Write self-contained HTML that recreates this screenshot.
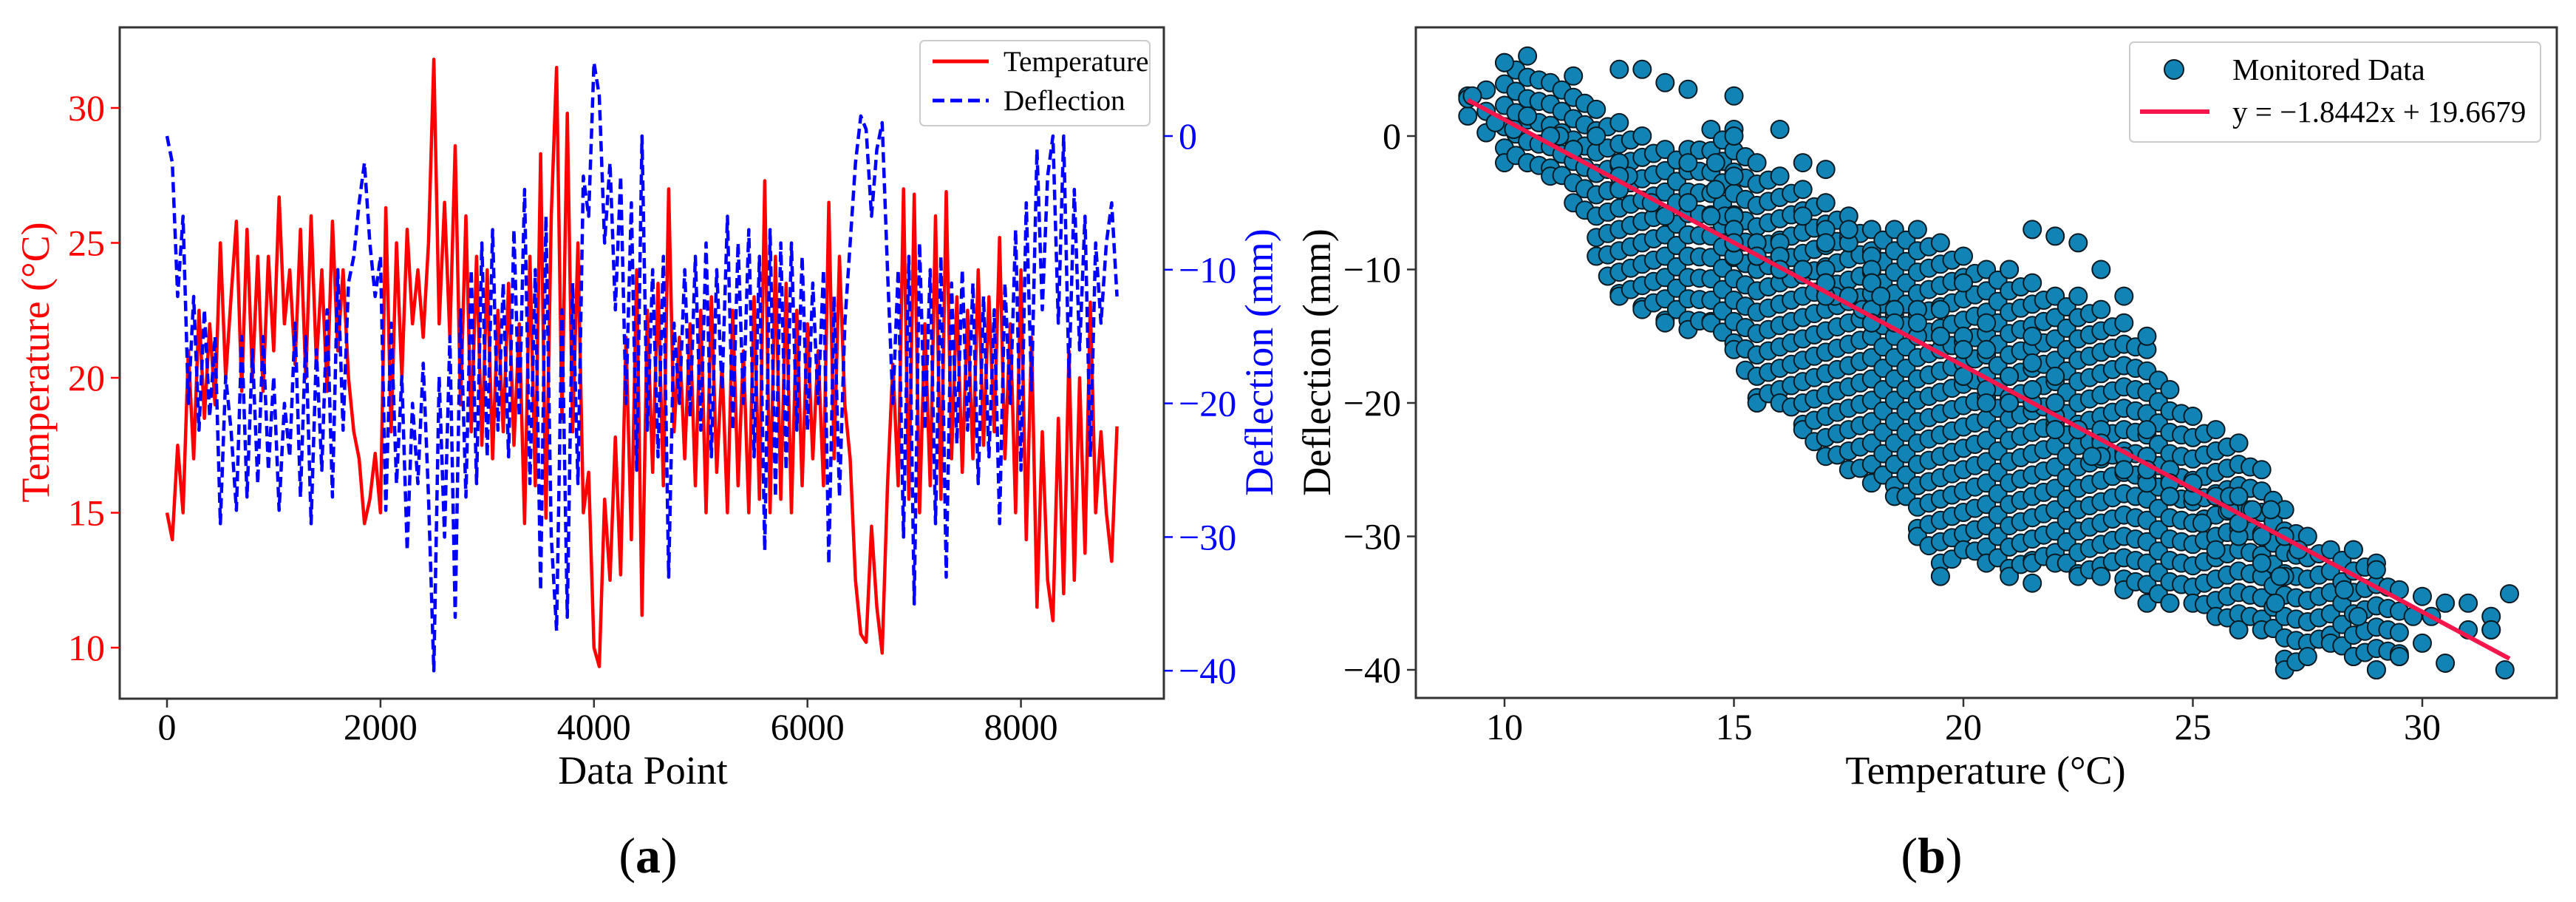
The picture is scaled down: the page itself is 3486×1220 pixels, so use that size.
<!DOCTYPE html>
<html><head><meta charset="utf-8"><style>
html,body{margin:0;padding:0;background:#fff;}
svg{display:block;}
svg text{font-family:"Liberation Serif","Times New Roman","DejaVu Serif",serif;}
</style></head><body>
<svg id="fig" width="3486" height="1220" viewBox="0 0 3486 1220" xmlns="http://www.w3.org/2000/svg" font-family="'Liberation Serif', 'Times New Roman', 'DejaVu Serif', serif">
<rect width="3486" height="1220" fill="#fff"/>
<g id="pa"></g>
<g id="pb"></g>
</svg>
<script>
// ---------- Panel (a) data ----------
const dataStep = 50;
const temperature = [15.0,14.0,17.5,15.0,21.0,17.0,22.5,18.5,22.0,19.0,25.0,20.0,23.0,25.8,19.5,25.5,20.0,24.5,19.5,24.5,21.0,26.7,22.0,24.0,20.5,25.5,20.0,26.0,20.5,24.0,19.5,25.8,21.0,24.0,20.0,18.0,17.0,14.6,15.5,17.2,15.0,26.3,18.0,25.0,20.0,25.5,22.0,24.0,21.5,25.0,31.8,22.0,26.5,21.5,28.6,19.0,26.0,18.0,24.5,17.5,24.0,17.0,22.5,18.0,23.5,17.5,22.0,14.6,24.5,16.0,28.3,14.8,26.0,31.5,18.5,29.8,18.0,25.0,15.0,16.5,10.0,9.3,15.5,12.5,17.8,12.7,21.5,14.0,24.0,11.2,22.5,16.5,23.5,16.0,27.0,18.0,21.5,17.0,22.0,16.0,22.5,15.0,23.0,16.5,20.5,15.0,22.5,16.0,21.0,15.0,23.0,15.5,27.3,15.0,24.5,15.5,23.5,15.0,22.5,16.0,22.0,17.0,21.0,16.0,26.5,17.0,24.5,19.0,17.0,12.5,10.5,10.2,14.5,11.5,9.8,16.0,20.5,16.0,27.0,15.5,26.8,15.0,22.0,16.0,26.0,15.5,26.9,17.0,23.0,16.5,22.5,17.0,24.0,17.5,23.0,18.0,25.2,17.0,22.0,15.0,24.0,14.0,21.5,11.5,18.0,12.5,11.0,18.5,12.0,21.0,12.5,20.0,13.5,22.8,15.0,18.0,15.0,13.2,18.2];
const deflection = [0,-2,-12,-6,-20,-12,-22,-13,-21,-15,-29,-18,-22,-28,-15,-27,-16,-26,-15,-25,-18,-28,-20,-24,-14,-27,-15,-29,-16,-25,-13,-27,-10,-22,-11,-9,-5,-2,-8,-12,-9,-28,-14,-26,-18,-31,-20,-26,-17,-27,-40,-18,-30,-15,-36,-13,-27,-10,-26,-8,-24,-7,-22,-11,-24,-7,-21,-4,-26,-10,-34,-6,-30,-37,-13,-36,-11,-26,-3,-6,5.5,3,-8,-2,-13,-3,-20,-5,-25,0,-22,-10,-24,-9,-33,-14,-20,-10,-21,-9,-22,-8,-24,-10,-19,-6,-22,-8,-20,-7,-24,-9,-31,-7,-27,-8,-25,-8,-22,-9,-22,-11,-20,-10,-32,-12,-27,-14,-8,-2,1.5,0.5,-6,-1,1,-10,-20,-10,-30,-9,-35,-8,-22,-10,-29,-9,-33,-11,-23,-10,-22,-11,-26,-12,-24,-13,-29,-11,-20,-7,-25,-5,-19,-1,-13,-3,0,-14,0,-18,-4,-16,-6,-24,-8,-14,-8,-5,-12];
const xTicksA = [0,2000,4000,6000,8000];
const yTicksTemp = [10,15,20,25,30];
const yTicksDefl = [-40,-30,-20,-10,0];
// ---------- Panel (b) data ----------
// blob envelope read per temperature column
const colTemps = [9.2,10,10.5,11,11.5,12,12.5,13,13.5,14,14.5,15,15.5,16,16.5,17,17.5,18,18.5,19,19.5,20,20.5,21,21.5,22,22.5,23,23.5,24,24.5,25,25.5,26,26.5,27,27.5,28,28.5,29,29.5];
const colMax = [3,5.5,6,4,4.5,2,1,0,-1,-1,0.5,0.5,-2,-3,-4,-5,-6,-7,-7,-7,-8,-9,-10,-10,-11,-12,-12,-13,-14,-16,-19,-21,-22,-23,-25,-28,-30,-31,-31,-32,-34];
const colMin = [1.5,-2,-2,-3,-5,-9,-12,-13,-14,-14.5,-14,-16,-20,-20,-22,-24,-25,-26,-27,-30,-33,-31,-32,-33,-32,-32,-33,-33,-34,-35,-35,-35,-36,-37,-37,-40,-39,-38,-39,-40,-39];
const outlierT = [12.5,13,13.5,14,15,16,16.5,17,21.5,22,22.5,23,23.5,24,19.5,21.5,30,30.5,31,31.5,31.9,30,30.5,31,31.5,29.5,28.5,29,9.2,30.2];
const outlierD = [5,5,4,3.5,3,0.5,-2,-2.5,-7,-7.5,-8,-10,-12,-15,-33,-33.5,-34.5,-35,-35,-36,-34.3,-38,-39.5,-37,-37,-39,-31,-32.5,2.8,-36];
const fitSlope = -1.8442, fitIntercept = 19.6679;
const fitRange = [9.2,31.9];
const xTicksB = [10,15,20,25,30];
const yTicksB = [-40,-30,-20,-10,0];

const NS = "http://www.w3.org/2000/svg";
const FONT = "'Liberation Serif', 'Times New Roman', 'DejaVu Serif', serif";
function mk(parent, tag, attrs, text){
  const e = document.createElementNS(NS, tag);
  for (const k in attrs) e.setAttribute(k, attrs[k]);
  if (tag === 'text') e.setAttribute('font-family', FONT);
  if (text !== undefined) e.textContent = text;
  parent.appendChild(e);
  return e;
}
const xA = v => 226 + v * 0.14445;
const yT = t => 146 + (30 - t) * 36.5;
const yD = d => 184 - d * 18.08;
const xB = t => 2036 + (t - 10) * 62.1;
const yB = d => 184 - d * 18.05;

// ===== Panel A =====
const pa = document.getElementById('pa');
const boxA = {l:162, r:1575, t:37, b:945};
let p = temperature.map((t,i)=>`${xA(i*dataStep).toFixed(1)},${yT(t).toFixed(1)}`).join(' ');
let el = mk(pa,'polyline',{points:p,fill:'none',stroke:'#ff0000','stroke-width':4.5,'stroke-linejoin':'round'});


p = deflection.map((d,i)=>`${xA(i*dataStep).toFixed(1)},${yD(d).toFixed(1)}`).join(' ');
el = mk(pa,'polyline',{points:p,fill:'none',stroke:'#0000ff','stroke-width':4.5,'stroke-dasharray':'14 7','stroke-linejoin':'round'});


el = mk(pa,'rect',{x:boxA.l,y:boxA.t,width:boxA.r-boxA.l,height:boxA.b-boxA.t,fill:'none',stroke:'#333','stroke-width':3});


xTicksA.forEach(v=>{
  const x = xA(v);
  mk(pa,'line',{x1:x,x2:x,y1:boxA.b,y2:boxA.b+12,stroke:'#333','stroke-width':2.5});
  const t = mk(pa,'text',{x:x,y:1000,'font-size':50,'text-anchor':'middle',fill:'#000'},String(v));
  
  
});
yTicksTemp.forEach(v=>{
  const y = yT(v);
  mk(pa,'line',{x1:boxA.l-12,x2:boxA.l,y1:y,y2:y,stroke:'#ff0000','stroke-width':2.5});
  const t = mk(pa,'text',{x:boxA.l-20,y:y+17,'font-size':50,'text-anchor':'end',fill:'#ff0000'},String(v));
  
  
});
yTicksDefl.forEach(v=>{
  const y = yD(v);
  mk(pa,'line',{x1:boxA.r,x2:boxA.r+12,y1:y,y2:y,stroke:'#0000ff','stroke-width':2.5});
  const t = mk(pa,'text',{x:boxA.r+20,y:y+17,'font-size':50,'text-anchor':'start',fill:'#0000ff'},(v<0?'\u2212':'')+Math.abs(v));
  
  
});
el = mk(pa,'text',{x:870,y:1060,'font-size':54,'text-anchor':'middle',fill:'#000'},'Data Point');


el = mk(pa,'text',{x:0,y:0,'font-size':54,'text-anchor':'middle',fill:'#ff0000',transform:'translate(66,490) rotate(-90)'},'Temperature (°C)');


el = mk(pa,'text',{x:0,y:0,'font-size':54,'text-anchor':'middle',fill:'#0000ff',transform:'translate(1722,490) rotate(-90)'},'Deflection (mm)');


const lgA = mk(pa,'g',{});


mk(lgA,'rect',{x:1245,y:55,width:311,height:115,rx:6,fill:'#fff',stroke:'#ccc','stroke-width':2});
mk(lgA,'line',{x1:1262,x2:1338,y1:83,y2:83,stroke:'#ff0000','stroke-width':5});
el = mk(lgA,'text',{x:1358,y:96,'font-size':39,fill:'#000'},'Temperature');


mk(lgA,'line',{x1:1262,x2:1338,y1:136,y2:136,stroke:'#0000ff','stroke-width':5,'stroke-dasharray':'16 8'});
el = mk(lgA,'text',{x:1358,y:149,'font-size':39,fill:'#000'},'Deflection');


el = mk(pa,'text',{x:877,y:1180,'font-size':68,'text-anchor':'middle',fill:'#000'});
el.innerHTML = '(<tspan font-weight="bold">a</tspan>)';



// ===== Panel B =====
const pb = document.getElementById('pb');
const boxB = {l:1916, r:3460, t:37, b:944};
const pts = [];
// fill each column envelope (and half-step columns between neighbours) with markers
colTemps.forEach((t,i)=>{
  const hi = colMax[i], lo = colMin[i];
  for (let d = hi; d >= lo - 0.01; d -= 1.6) pts.push([t, d]);
  pts.push([t, lo]);
  if (i < colTemps.length - 1) {
    const t2 = (t + colTemps[i+1]) / 2;
    const hi2 = (hi + colMax[i+1]) / 2, lo2 = (lo + colMin[i+1]) / 2;
    for (let d = hi2 - 0.8; d >= lo2; d -= 1.6) pts.push([t2, d]);
  }
});
outlierT.forEach((t,i)=>pts.push([t, outlierD[i]]));
temperature.forEach((t,i)=>pts.push([t, deflection[i]]));
const sg = mk(pb,'g',{});


pts.forEach(([t,d])=>{
  const c = mk(sg,'circle',{cx:xB(t).toFixed(1),cy:yB(d).toFixed(1),r:12,fill:'#1184b5',stroke:'#0a1a22','stroke-width':2});
  
  
});
el = mk(pb,'line',{x1:xB(fitRange[0]),y1:yB(fitSlope*fitRange[0]+fitIntercept),x2:xB(fitRange[1]),y2:yB(fitSlope*fitRange[1]+fitIntercept),stroke:'#f5174b','stroke-width':6});


el = mk(pb,'rect',{x:boxB.l,y:boxB.t,width:boxB.r-boxB.l,height:boxB.b-boxB.t,fill:'none',stroke:'#333','stroke-width':3});


xTicksB.forEach(v=>{
  const x = xB(v);
  mk(pb,'line',{x1:x,x2:x,y1:boxB.b,y2:boxB.b+12,stroke:'#333','stroke-width':2.5});
  const t = mk(pb,'text',{x:x,y:1000,'font-size':50,'text-anchor':'middle',fill:'#000'},String(v));
  
  
});
yTicksB.forEach(v=>{
  const y = yB(v);
  mk(pb,'line',{x1:boxB.l-12,x2:boxB.l,y1:y,y2:y,stroke:'#333','stroke-width':2.5});
  const t = mk(pb,'text',{x:boxB.l-20,y:y+17,'font-size':50,'text-anchor':'end',fill:'#000'},(v<0?'\u2212':'')+Math.abs(v));
  
  
});
el = mk(pb,'text',{x:2687,y:1060,'font-size':54,'text-anchor':'middle',fill:'#000'},'Temperature (°C)');


el = mk(pb,'text',{x:0,y:0,'font-size':54,'text-anchor':'middle',fill:'#000',transform:'translate(1800,490) rotate(-90)'},'Deflection (mm)');


const lgB = mk(pb,'g',{});


mk(lgB,'rect',{x:2882,y:57,width:556,height:135,rx:6,fill:'#fff',stroke:'#ccc','stroke-width':2});
mk(lgB,'circle',{cx:2942,cy:94,r:13,fill:'#1184b5',stroke:'#0a1a22','stroke-width':2});
el = mk(lgB,'text',{x:3021,y:108,'font-size':41,fill:'#000'},'Monitored Data');


mk(lgB,'line',{x1:2896,x2:2990,y1:151,y2:151,stroke:'#f5174b','stroke-width':6});
el = mk(lgB,'text',{x:3021,y:165,'font-size':41,fill:'#000'},'y = \u22121.8442x + 19.6679');


el = mk(pb,'text',{x:2614,y:1180,'font-size':68,'text-anchor':'middle',fill:'#000'});
el.innerHTML = '(<tspan font-weight="bold">b</tspan>)';


</script>
</body></html>
